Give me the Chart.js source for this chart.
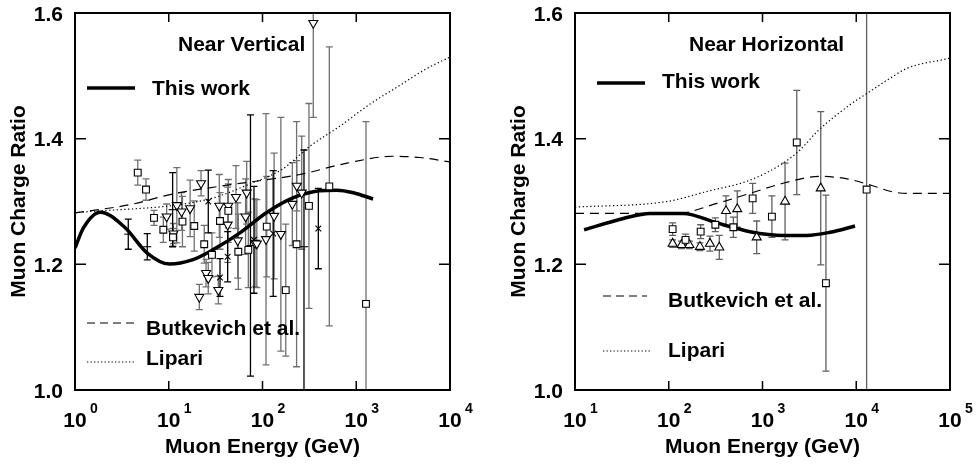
<!DOCTYPE html>
<html>
<head>
<meta charset="utf-8">
<title>Muon Charge Ratio</title>
<script src="https://cdn.jsdelivr.net/npm/chart.js"></script>
<style>
  body { margin: 0; background: #fff; }
  #wrap { position: relative; width: 977px; height: 465px; }
  canvas { position: absolute; top: 0; }
</style>
</head>
<body>
<div id="wrap">
  <canvas id="vert" width="490" height="465" style="left:0"></canvas>
  <canvas id="horiz" width="487" height="465" style="left:490px"></canvas>
</div>
<script>
// ---------- values ----------
const yTicks = [1.0, 1.2, 1.4, 1.6];
const vertDecades = [0, 1, 2, 3, 4];
const horizDecades = [1, 2, 3, 4, 5];

// Near vertical: model curves
const vertWorkE = [1, 1.23, 1.86, 3.39, 5.89, 10.2, 17.8, 29.5, 57.5, 110, 214, 407, 617, 933, 1510];
const vertWorkR = [1.226, 1.258, 1.283, 1.259, 1.218, 1.2005, 1.207, 1.223, 1.250, 1.282, 1.306, 1.317, 1.318, 1.314, 1.304];
const vertButkE = [1, 3.86, 11.1, 41.9, 73.6, 251, 795, 2470, 4800, 10000];
const vertButkR = [1.282, 1.295, 1.312, 1.326, 1.331, 1.343, 1.361, 1.372, 1.370, 1.363];
const vertLipE = [1, 25.6, 73.6, 165, 321, 671, 1400, 2930, 5410, 10000];
const vertLipR = [1.282, 1.303, 1.328, 1.352, 1.388, 1.420, 1.455, 1.485, 1.510, 1.530];

// Near vertical: measurements
const vSqE = [4.67, 5.72, 6.96, 8.75, 11.1, 14.0, 18.7, 23.9, 28.9, 35.2, 43.2, 55.2, 70.6, 111, 177, 231, 313, 516, 1270];
const vSqR = [1.346, 1.319, 1.274, 1.255, 1.243, 1.268, 1.261, 1.232, 1.215, 1.269, 1.285, 1.220, 1.223, 1.260, 1.159, 1.232, 1.293, 1.324, 1.137];
const vSqErr = [0.02, 0.017, 0.012, 0.02, 0.014, 0.04, 0.04, 0.03, 0.035, 0.045, 0.05, 0.06, 0.06, 0.08, 0.105, 0.195, 0.163, 0.222, 0.29];

const vTriE = [9.5, 11.2, 12.2, 13.7, 16.9, 21.2, 22.1, 25.0, 26.4, 33.8, 34.6, 42.5, 43.2, 52.1, 54.4, 66.0, 67.8, 83.2, 87.0, 109, 133, 157, 208, 232, 262, 348];
const vTriR = [1.276, 1.249, 1.294, 1.284, 1.289, 1.148, 1.329, 1.186, 1.178, 1.159, 1.293, 1.263, 1.293, 1.307, 1.238, 1.276, 1.314, 1.234, 1.233, 1.240, 1.277, 1.248, 1.296, 1.325, 1.314, 1.584];
const vTriErr = [0.02, 0.016, 0.06, 0.03, 0.045, 0.02, 0.02, 0.022, 0.025, 0.022, 0.05, 0.06, 0.035, 0.05, 0.06, 0.06, 0.05, 0.07, 0.07, 0.2, 0.1, 0.186, 0.066, 0.04, 0.09, 0.15];

const vCrossE = [26.4, 35.2, 42.5, 81.1, 130, 394];
const vCrossR = [1.300, 1.179, 1.212, 1.239, 1.249, 1.257];
const vCrossErr = [0.05, 0.03, 0.04, 0.085, 0.1, 0.064];

const vDashE = [3.7, 5.9, 11.0, 74.4, 277];
const vDashR = [1.248, 1.228, 1.287, 1.230, 1.228];
const vDashLo = [0.024, 0.021, 0.059, 0.208, 0.33];
const vDashHi = [0.024, 0.021, 0.059, 0.208, 0.154];

// Near horizontal: model curves
const horizWorkE = [12.5, 32.8, 63, 143, 324, 736, 1667, 2960, 5250, 9700];
const horizWorkR = [1.255, 1.273, 1.281, 1.281, 1.266, 1.252, 1.246, 1.246, 1.251, 1.261];
const horizButkE = [10, 122, 327, 736, 1656, 4100, 8000, 15000, 25000, 35000, 100000];
const horizButkR = [1.281, 1.281, 1.297, 1.313, 1.329, 1.340, 1.336, 1.325, 1.315, 1.313, 1.313];
const horizLipE = [10, 95.7, 256, 736, 1656, 2512, 3810, 8570, 13000, 22900, 34800, 100000];
const horizLipR = [1.291, 1.300, 1.316, 1.334, 1.361, 1.382, 1.411, 1.454, 1.472, 1.496, 1.512, 1.528];

// Near horizontal: measurements
const hSqE = [110, 151, 219, 314, 489, 785, 1260, 2320, 4750, 12900];
const hSqR = [1.256, 1.239, 1.252, 1.263, 1.259, 1.305, 1.276, 1.394, 1.170, 1.319];
const hSqErr = [0.010, 0.009, 0.011, 0.011, 0.016, 0.024, 0.033, 0.083, 0.14, 0.4];
const hTriE = [110, 137, 166, 215, 275, 346, 408, 538, 867, 1740, 4180];
const hTriR = [1.233, 1.231, 1.231, 1.228, 1.233, 1.227, 1.285, 1.288, 1.243, 1.300, 1.321];
const hTriErr = [0.006, 0.006, 0.006, 0.006, 0.012, 0.019, 0.024, 0.029, 0.026, 0.061, 0.122];

// ---------- helpers ----------
const FONT = '"Liberation Sans", Arial, Helvetica, sans-serif';

function pts(E, R) { return E.map((e, i) => ({ x: e, y: R[i] })); }

function curve(E, R, width, dash) {
  return {
    data: pts(E, R), showLine: true, borderColor: '#000', borderWidth: width,
    borderDash: dash, pointRadius: 0, pointHoverRadius: 0, fill: false,
    cubicInterpolationMode: 'monotone'
  };
}

function marks(E, R, lo, hi, style, radius, rotation, barColor) {
  return {
    data: pts(E, R), pointStyle: style, pointRadius: radius, pointRotation: rotation,
    pointBackgroundColor: '#fff', pointBorderColor: '#000', pointBorderWidth: 1.1,
    errLo: lo, errHi: hi, barColor: barColor
  };
}

function drawErrorBars(chart) {
  const { ctx, chartArea: a, scales: { x, y } } = chart;
  ctx.save();
  ctx.beginPath();
  ctx.rect(a.left, a.top, a.right - a.left, a.bottom - a.top);
  ctx.clip();
  chart.data.datasets.forEach(ds => {
    if (!ds.errLo) return;
    ctx.strokeStyle = ds.barColor;
    ctx.lineWidth = 1.3;
    ds.data.forEach((p, i) => {
      const px = x.getPixelForValue(p.x);
      const lo = y.getPixelForValue(p.y - ds.errLo[i]);
      const hi = y.getPixelForValue(p.y + ds.errHi[i]);
      ctx.beginPath();
      ctx.moveTo(px, lo); ctx.lineTo(px, hi);
      ctx.moveTo(px - 3.5, lo); ctx.lineTo(px + 3.5, lo);
      ctx.moveTo(px - 3.5, hi); ctx.lineTo(px + 3.5, hi);
      ctx.stroke();
    });
  });
  ctx.restore();
}

function drawFrame(chart, cfg) {
  const { ctx, chartArea: a, scales: { x, y } } = chart;
  ctx.save();
  ctx.strokeStyle = '#000';
  ctx.lineWidth = 1.5;
  ctx.beginPath();
  cfg.decades.forEach(d => {
    const px = x.getPixelForValue(Math.pow(10, d));
    ctx.moveTo(px, a.bottom); ctx.lineTo(px, a.bottom - 9);
    ctx.moveTo(px, a.top); ctx.lineTo(px, a.top + 9);
  });
  yTicks.forEach(v => {
    const py = y.getPixelForValue(v);
    ctx.moveTo(a.left, py); ctx.lineTo(a.left + 11, py);
    ctx.moveTo(a.right, py); ctx.lineTo(a.right - 11, py);
  });
  ctx.stroke();
  ctx.lineWidth = 2;
  ctx.strokeRect(a.left, a.top, a.right - a.left, a.bottom - a.top);

  ctx.fillStyle = '#000';
  ctx.textBaseline = 'alphabetic';
  ctx.font = 'bold 21px ' + FONT;
  ctx.textAlign = 'right';
  yTicks.forEach(v => ctx.fillText(v.toFixed(1), a.left - 12, y.getPixelForValue(v) + 7.5));

  cfg.decades.forEach(d => {
    const px = x.getPixelForValue(Math.pow(10, d));
    ctx.font = 'bold 21px ' + FONT;
    ctx.textAlign = 'center';
    ctx.fillText('10', px, 427);
    ctx.font = 'bold 14px ' + FONT;
    ctx.textAlign = 'left';
    ctx.fillText(String(d), px + 15, 413);
  });

  ctx.font = 'bold 21px ' + FONT;
  ctx.textAlign = 'center';
  ctx.fillText('Muon Energy (GeV)', (a.left + a.right) / 2, 453);
  ctx.save();
  ctx.translate(cfg.yTitleX, (a.top + a.bottom) / 2);
  ctx.rotate(-Math.PI / 2);
  ctx.fillText('Muon Charge Ratio', 0, 0);
  ctx.restore();

  // panel caption and legend
  ctx.textAlign = 'left';
  cfg.notes.forEach(n => ctx.fillText(n[0], n[1], n[2]));
  cfg.keys.forEach(k => {
    ctx.beginPath();
    ctx.lineWidth = k[3] === 'solid' ? 3.5 : 1.2;
    ctx.setLineDash(k[3] === 'dash' ? [8, 5] : k[3] === 'dot' ? [1.3, 2.2] : []);
    ctx.moveTo(k[0], k[2]); ctx.lineTo(k[1], k[2]);
    ctx.stroke();
  });
  ctx.restore();
}

function makeChart(id, cfg, datasets) {
  return new Chart(document.getElementById(id), {
    type: 'scatter',
    data: { datasets: datasets },
    options: {
      responsive: false, animation: false, devicePixelRatio: 1,
      events: [],
      layout: { autoPadding: false, padding: { top: 13, right: cfg.padRight, left: 0, bottom: 0 } },
      plugins: { legend: { display: false }, tooltip: { enabled: false } },
      scales: {
        x: {
          type: 'logarithmic', min: Math.pow(10, cfg.decades[0]), max: Math.pow(10, cfg.decades[cfg.decades.length - 1]),
          ticks: { display: false }, grid: { display: false }, border: { display: false },
          afterFit: s => { s.height = 75; }
        },
        y: {
          min: 1.0, max: 1.6,
          ticks: { display: false }, grid: { display: false }, border: { display: false },
          afterFit: s => { s.width = cfg.axisWidth; }
        }
      }
    },
    plugins: [{
      id: 'panel',
      beforeDatasetsDraw: chart => drawErrorBars(chart),
      afterDatasetsDraw: chart => drawFrame(chart, cfg)
    }]
  });
}

// ---------- left: near vertical ----------
makeChart('vert', {
  decades: vertDecades, axisWidth: 75, padRight: 40, yTitleX: 25,
  notes: [['Near Vertical', 178, 51], ['This work', 152, 95], ['Butkevich et al.', 146, 335], ['Lipari', 146, 365]],
  keys: [[87, 135, 88, 'solid'], [87, 135, 323, 'dash'], [87, 135, 362, 'dot']]
}, [
  marks(vSqE, vSqR, vSqErr, vSqErr, 'rect', 4.8, 0, '#707070'),
  marks(vTriE, vTriR, vTriErr, vTriErr, 'triangle', 5.2, 180, '#707070'),
  marks(vCrossE, vCrossR, vCrossErr, vCrossErr, 'crossRot', 4, 0, '#000'),
  marks(vDashE, vDashR, vDashLo, vDashHi, 'line', 4, 0, '#000'),
  curve(vertWorkE, vertWorkR, 3.5, []),
  curve(vertButkE, vertButkR, 1.2, [9, 6]),
  curve(vertLipE, vertLipR, 1.2, [1.3, 2.5])
]);

// ---------- right: near horizontal ----------
makeChart('horiz', {
  decades: horizDecades, axisWidth: 85, padRight: 27, yTitleX: 35,
  notes: [['Near Horizontal', 199, 51], ['This work', 172, 88], ['Butkevich et al.', 178, 307], ['Lipari', 178, 357]],
  keys: [[107, 155, 83, 'solid'], [113, 157, 296, 'dash'], [113, 162, 351, 'dot']]
}, [
  marks(hSqE, hSqR, hSqErr, hSqErr, 'rect', 4.8, 0, '#606060'),
  marks(hTriE, hTriR, hTriErr, hTriErr, 'triangle', 5.2, 0, '#606060'),
  curve(horizWorkE, horizWorkR, 3.5, []),
  curve(horizButkE, horizButkR, 1.2, [9, 6]),
  curve(horizLipE, horizLipR, 1.2, [1.3, 2.5])
]);
</script>
</body>
</html>
